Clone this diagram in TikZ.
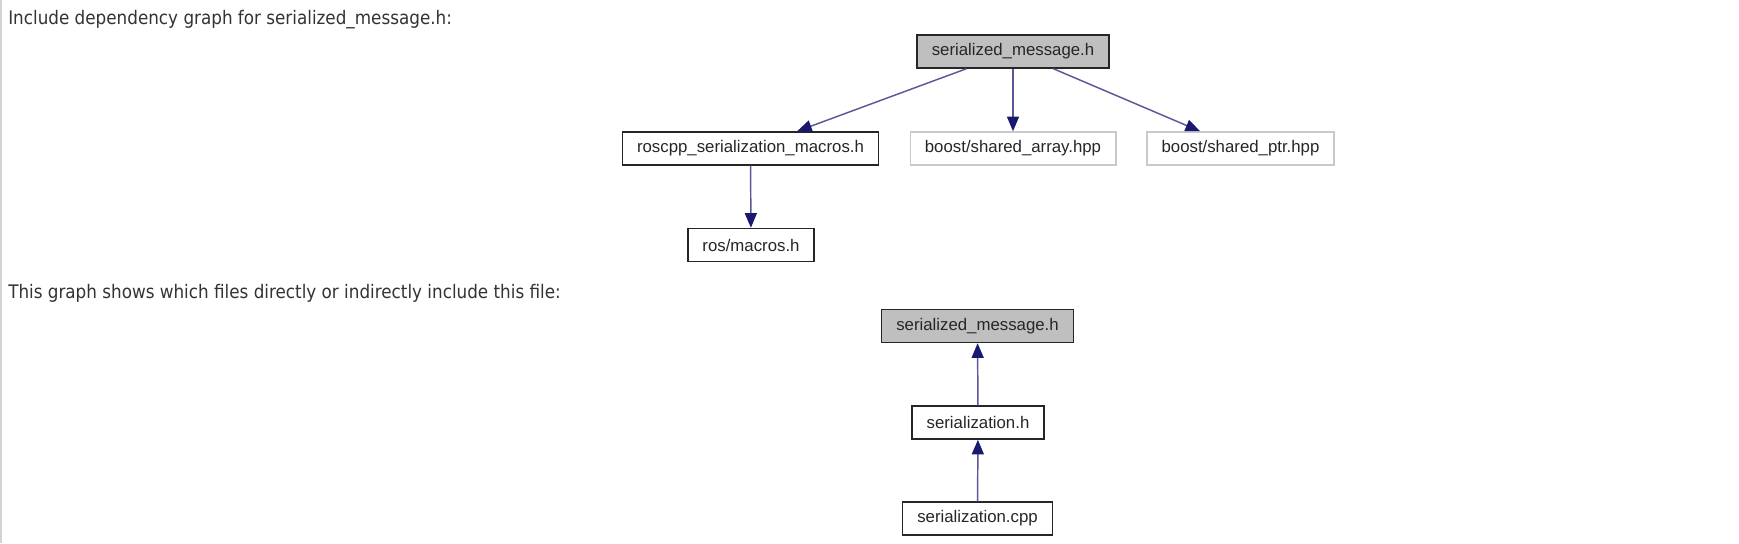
\documentclass[tikz,border=0pt]{standalone}
\usepackage{fontspec}
\setmainfont{Liberation Sans}
\newfontfamily\headfont{DejaVu Sans Condensed}
\usepackage{tikz}
\usetikzlibrary{arrows.meta}
\definecolor{edgeblue}{RGB}{25,25,112}
\definecolor{boxgray}{RGB}{191,191,191}
\tikzset{
  inc/.style={draw=black!85, line width=1.1pt, fill=white, minimum height=24.75pt,
              inner xsep=11pt, inner ysep=0pt, font=\fontsize{12.6}{14}\selectfont, text=black!85},
  incmain/.style={inc, fill=boxgray},
  incext/.style={inc, draw=boxgray!85},
  incarrow/.style={-{Triangle[length=11pt, width=9pt, color=edgeblue]}, draw=edgeblue!72, line width=1.1pt},
  head/.style={anchor=base west, inner sep=0pt, font=\headfont\fontsize{14}{16}\selectfont, text=black!80}
}

\begin{document}
\begin{tikzpicture}[x=0.75pt, y=-0.75pt]
\useasboundingbox (0,0) rectangle (1739,543);
\draw[gray!35, line width=1.5pt] (1,0) -- (1,543);

% include graph
\node[head] (title1) at (8,24) {Include dependency graph for serialized\_message.h:};
\node[incmain] (msg) at (1013,51.5) {serialized\_message.h};
\node[inc] (macros) at (750.5,148.5) {roscpp\_serialization\_macros.h};
\node[incext] (sarray) at (1013,148.5) {boost/shared\_array.hpp};
\node[incext] (sptr) at (1240.5,148.5) {boost/shared\_ptr.hpp};
\node[inc] (rosmac) at (751,245) {ros/macros.h};
\draw[incarrow] (msg) -- (macros);
\draw[incarrow] (msg) -- (sarray);
\draw[incarrow] (msg) -- (sptr);
\draw[incarrow] (macros) -- (rosmac);

% included-by graph
\node[head] (title2) at (8,298) {This graph shows which files directly or indirectly include this file:};
\node[incmain] (msgb) at (977.5,326) {serialized\_message.h};
\node[inc] (ser) at (978,422.5) {serialization.h};
\node[inc] (sercpp) at (977.5,518.5) {serialization.cpp};
\draw[incarrow] (ser) -- (msgb);
\draw[incarrow] (sercpp) -- (ser);
\end{tikzpicture}
\end{document}
